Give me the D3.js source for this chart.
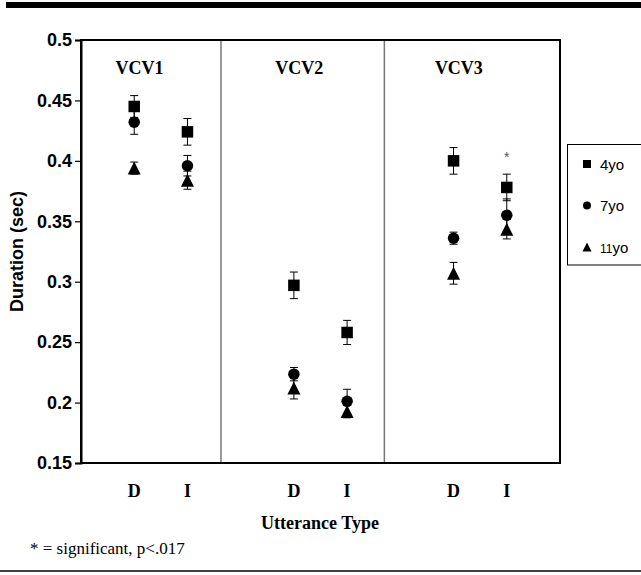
<!DOCTYPE html>
<html>
<head>
<meta charset="utf-8">
<script src="https://cdn.jsdelivr.net/npm/d3@7"></script>
<style>
  body { margin: 0; background: #fff; }
  svg { display: block; }
</style>
</head>
<body>
<script>
// values
var groups = ["VCV1", "VCV2", "VCV3"];
var utterances = ["D", "I"];
var ages = ["4yo", "7yo", "11yo"];
var yTicks = [0.15, 0.2, 0.25, 0.3, 0.35, 0.4, 0.45, 0.5];

// order: VCV1 D, VCV1 I, VCV2 D, VCV2 I, VCV3 D, VCV3 I
var dur4 = [0.445, 0.424, 0.297, 0.258, 0.400, 0.378];
var err4 = [0.009, 0.011, 0.011, 0.010, 0.011, 0.011];
var dur7 = [0.432, 0.396, 0.2235, 0.201, 0.336, 0.355];
var err7 = [0.010, 0.0085, 0.0055, 0.010, 0.005, 0.0135];
var dur11 = [0.394, 0.384, 0.212, 0.1926, 0.307, 0.3434];
var err11 = [0.005, 0.0075, 0.009, 0.0052, 0.009, 0.008];
var signif = [false, false, false, false, false, true];

var width = 641, height = 575;
// note: "top" is taken by window.top, so use plot* names
var plotLeft = 81, plotRight = 560, plotTop = 40, plotBottom = 463;

var svg = d3.select("body").append("svg")
    .attr("width", width)
    .attr("height", height);

var x = d3.scaleLinear().domain([0, 9]).range([plotLeft, plotRight]);
var y = d3.scaleLinear().domain([0.15, 0.5]).range([plotBottom, plotTop]);

// slot on x for group g, utterance u
function slot(g, u) { return g * 3 + u + 1; }

var series = [
  {name: ages[0], vals: dur4, errs: err4, shape: "square"},
  {name: ages[1], vals: dur7, errs: err7, shape: "circle"},
  {name: ages[2], vals: dur11, errs: err11, shape: "triangle"}
];

function marker(sel, shape, s) {
  if (shape === "square") {
    sel.append("rect").attr("x", -s / 2).attr("y", -s / 2)
      .attr("width", s).attr("height", s).attr("fill", "#000");
  } else if (shape === "circle") {
    sel.append("circle").attr("r", s / 2).attr("fill", "#000");
  } else {
    sel.append("path")
      .attr("d", "M0," + (-s / 2) + "L" + (s / 2) + "," + (s / 2) + "L" + (-s / 2) + "," + (s / 2) + "Z")
      .attr("fill", "#000");
  }
}

// top bar and bottom rule
svg.append("rect").attr("x", 6).attr("y", 2).attr("width", width - 6).attr("height", 6).attr("fill", "#000");
svg.append("line").attr("x1", 0).attr("x2", width).attr("y1", 571).attr("y2", 571)
  .attr("stroke", "#000").attr("stroke-width", 1.5);

// panel dividers
[2.63, 5.7].forEach(function (d) {
  svg.append("line")
    .attr("x1", x(d)).attr("x2", x(d)).attr("y1", plotTop).attr("y2", plotBottom)
    .attr("stroke", "#777").attr("stroke-width", 1.5);
});

// frame
svg.append("rect")
  .attr("x", plotLeft).attr("y", plotTop)
  .attr("width", plotRight - plotLeft).attr("height", plotBottom - plotTop)
  .attr("fill", "none").attr("stroke", "#000").attr("stroke-width", 2);

// y axis
var yAxis = d3.axisLeft(y)
  .tickValues(yTicks)
  .tickFormat(function (d) { return String(+d.toFixed(2)); })
  .tickSize(6)
  .tickPadding(3);

var ga = svg.append("g")
  .attr("transform", "translate(" + plotLeft + ",0)")
  .call(yAxis);
ga.select(".domain").attr("stroke-width", 2);
ga.selectAll(".tick line").attr("stroke-width", 1.2);
ga.selectAll("text")
  .attr("font-family", "Liberation Sans, Arial, sans-serif")
  .attr("font-weight", "bold")
  .attr("font-size", 18)
  .attr("fill", "#000");

svg.append("text")
  .attr("transform", "translate(23," + ((plotTop + plotBottom) / 2) + ") rotate(-90)")
  .attr("text-anchor", "middle")
  .attr("font-family", "Liberation Sans, Arial, sans-serif")
  .attr("font-weight", "bold")
  .attr("font-size", 18)
  .text("Duration (sec)");

// group titles and category labels
groups.forEach(function (g, gi) {
  svg.append("text")
    .attr("x", x(gi * 3 + 1.1)).attr("y", 74)
    .attr("text-anchor", "middle")
    .attr("font-family", "Liberation Serif, Times New Roman, serif")
    .attr("font-weight", "bold")
    .attr("font-size", 18)
    .text(g);
  utterances.forEach(function (u, ui) {
    svg.append("text")
      .attr("x", x(slot(gi, ui))).attr("y", 497)
      .attr("text-anchor", "middle")
      .attr("font-family", "Liberation Serif, Times New Roman, serif")
      .attr("font-weight", "bold")
      .attr("font-size", 18)
      .text(u);
  });
});

svg.append("text")
  .attr("x", 320).attr("y", 529)
  .attr("text-anchor", "middle")
  .attr("font-family", "Liberation Serif, Times New Roman, serif")
  .attr("font-weight", "bold")
  .attr("font-size", 18)
  .text("Utterance Type");

svg.append("text")
  .attr("x", 30).attr("y", 554)
  .attr("font-family", "Liberation Serif, Times New Roman, serif")
  .attr("font-size", 17)
  .text("* = significant, p<.017");

// points with error bars
series.forEach(function (s) {
  s.vals.forEach(function (v, i) {
    var cx = x(slot(Math.floor(i / 2), i % 2));
    var e = s.errs[i];
    var g = svg.append("g");
    g.append("line").attr("x1", cx).attr("x2", cx)
      .attr("y1", y(v - e)).attr("y2", y(v + e))
      .attr("stroke", "#000").attr("stroke-width", 1);
    [v - e, v + e].forEach(function (w) {
      g.append("line").attr("x1", cx - 4).attr("x2", cx + 4)
        .attr("y1", y(w)).attr("y2", y(w))
        .attr("stroke", "#000").attr("stroke-width", 1);
    });
    var m = svg.append("g").attr("transform", "translate(" + cx + "," + y(v) + ")");
    marker(m, s.shape, s.shape === "triangle" ? 13 : 11.5);
  });
});

// significance stars
signif.forEach(function (sg, i) {
  if (!sg) return;
  svg.append("text")
    .attr("x", x(slot(Math.floor(i / 2), i % 2))).attr("y", 162)
    .attr("text-anchor", "middle")
    .attr("font-family", "Liberation Sans, Arial, sans-serif")
    .attr("font-size", 14)
    .attr("fill", "#555")
    .text("*");
});

// legend
var lg = svg.append("g");
lg.append("rect").attr("x", 567.5).attr("y", 144.5).attr("width", 90).attr("height", 120.5)
  .attr("fill", "#fff").attr("stroke", "#000").attr("stroke-width", 1);
series.forEach(function (s, i) {
  var ly = 164 + i * 41.5;
  var m = lg.append("g").attr("transform", "translate(587," + ly + ")");
  marker(m, s.shape, s.shape === "triangle" ? 9 : 8);
  var t = lg.append("text").attr("x", 600).attr("y", ly + 5.5)
    .attr("font-family", "Liberation Sans, Arial, sans-serif")
    .attr("font-size", 15);
  var m2 = s.name.match(/^(\d+)(.*)$/);
  if (m2[1].length > 1) {
    t.append("tspan").attr("font-size", 12).text(m2[1]);
    t.append("tspan").text(m2[2]);
  } else {
    t.text(s.name);
  }
});
</script>
</body>
</html>
